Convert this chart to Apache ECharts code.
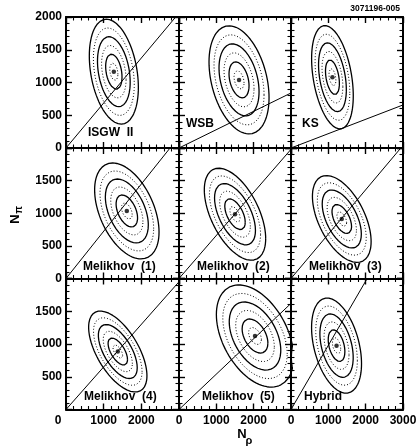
<!DOCTYPE html>
<html>
<head>
<meta charset="utf-8">
<script src="https://cdn.jsdelivr.net/npm/echarts@6/dist/echarts.min.js"></script>
<style>
  html, body { margin: 0; padding: 0; background: #fff; }
  #chart { width: 420px; height: 447px; }
</style>
</head>
<body>
<div id="chart"></div>
<script>
// Form-factor fit results: one panel per model, N_rho on x, N_pi on y.
const models = ['ISGW  II', 'WSB', 'KS',
                'Melikhov  (1)', 'Melikhov  (2)', 'Melikhov  (3)',
                'Melikhov  (4)', 'Melikhov  (5)', 'Hybrid'];
// best-fit point
const centerRho = [1270, 1608, 1110, 1615, 1500, 1360, 1375, 2036, 1220];
const centerPi  = [1165, 1040, 1080, 1035,  985,  912,  885, 1122,  975];
// one-sigma widths and correlation of the fit
const sigmaRho = [217, 268, 186, 285, 274, 262, 258, 345, 223];
const sigmaPi  = [267, 275, 263, 245, 235, 222, 206, 260, 242];
const corr     = [-0.30, -0.33, -0.36, -0.44, -0.53, -0.52, -0.60, -0.42, -0.38];
// model prediction: N_pi / N_rho ratio
const slope    = [0.687, 0.28, 0.219, 0.724, 0.66, 0.68, 0.65, 0.54, 0.98];
// contour levels in sigma (whole sigma solid, half sigma dotted)
const contourLevels = [0.5, 1, 1.5, 2, 2.5, 3];
// axis ticks
const xTicks = [0, 1000, 2000, 3000];
const yTicks = [0, 500, 1000, 1500, 2000];

const FONT = '"Liberation Sans", Arial, Helvetica, sans-serif';

// panel layout (pixels)
const colLeft = [66, 179, 291];
const colWidth = [113, 112, 112];
const rowTop = [17, 148, 278.5];
const rowHeight = [131, 130.5, 131];
// model-name placement inside each panel: [dx from left, dy from bottom]
const nameOffset = [[22, 15], [7, 24], [11, 24],
                    [17, 12], [18, 12], [18, 12],
                    [18, 13], [23, 13], [13, 13]];

function ellipse(g, k) {
  const pts = [];
  const r = corr[g];
  const q = Math.sqrt(1 - r * r);
  for (let a = 0; a <= 360; a += 4) {
    const t = a * Math.PI / 180;
    pts.push([
      centerRho[g] + k * sigmaRho[g] * Math.cos(t),
      centerPi[g] + k * sigmaPi[g] * (r * Math.cos(t) + q * Math.sin(t))
    ]);
  }
  return pts;
}

const grids = [], xAxes = [], yAxes = [], series = [], graphics = [];

const lineCol = '#000';
function tickParts() {
  return {
    axisLine: { show: true, onZero: false, lineStyle: { color: lineCol, width: 2 } },
    axisTick: { show: true, inside: true, length: 6, lineStyle: { color: lineCol, width: 1.4 } },
    minorTick: { show: true, splitNumber: 5, length: 3.5, lineStyle: { color: lineCol, width: 1.1 } },
    splitLine: { show: false },
    minorSplitLine: { show: false }
  };
}
const labelFont = { color: '#000', fontFamily: FONT, fontWeight: 'bold', fontSize: 12 };

for (let g = 0; g < 9; g++) {
  const r = Math.floor(g / 3), c = g % 3;
  grids.push({ left: colLeft[c], top: rowTop[r], width: colWidth[c], height: rowHeight[r], containLabel: false });

  ['bottom', 'top'].forEach(pos => {
    xAxes.push(Object.assign({
      type: 'value', gridIndex: g, position: pos,
      min: xTicks[0], max: xTicks[xTicks.length - 1], interval: xTicks[1] - xTicks[0],
      axisLabel: Object.assign({
        show: pos === 'bottom' && r === 2,
        margin: 5,
        formatter: v => {
          if (c < 2 && v === 3000) return '';
          if (c === 0 && v === 0) return '{s|0}';
          return String(v);
        },
        rich: { s: Object.assign({ padding: [0, 16, 0, 0] }, labelFont) }
      }, labelFont)
    }, tickParts()));
  });
  ['left', 'right'].forEach(pos => {
    yAxes.push(Object.assign({
      type: 'value', gridIndex: g, position: pos,
      min: yTicks[0], max: yTicks[yTicks.length - 1], interval: yTicks[1] - yTicks[0],
      axisLabel: Object.assign({
        show: pos === 'left' && c === 0,
        margin: 4,
        formatter: v => {
          if (r === 1 && v === 2000) return '';
          if (r === 2 && (v === 0 || v === 2000)) return '';
          return String(v);
        }
      }, labelFont)
    }, tickParts()));
  });

  const xi = 2 * g, yi = 2 * g;
  contourLevels.forEach(k => {
    const solid = Number.isInteger(k);
    series.push({
      type: 'line', xAxisIndex: xi, yAxisIndex: yi,
      data: ellipse(g, k), showSymbol: false, symbol: 'none', clip: true,
      lineStyle: solid ? { color: '#000', width: 1.3 } : { color: '#000', width: 1, type: [1, 2] },
      silent: true, z: 3
    });
  });
  series.push({
    type: 'line', xAxisIndex: xi, yAxisIndex: yi,
    data: [[0, 0], [3000, 3000 * slope[g]]], showSymbol: false, symbol: 'none', clip: true,
    lineStyle: { color: '#000', width: 1 }, silent: true, z: 3
  });
  series.push({
    type: 'scatter', xAxisIndex: xi, yAxisIndex: yi,
    data: [[centerRho[g], centerPi[g]]], symbol: 'circle', symbolSize: 4.5,
    itemStyle: { color: '#000' }, silent: true, z: 4
  });

  graphics.push({
    type: 'text', x: colLeft[c] + nameOffset[g][0], y: rowTop[r] + rowHeight[r] - nameOffset[g][1],
    z: 10,
    style: { text: models[g], fill: '#000', font: 'bold 12px ' + FONT,
             align: 'left', textAlign: 'left', verticalAlign: 'middle', textVerticalAlign: 'middle' }
  });
}

// axis titles and figure number
graphics.push(
  { type: 'text', x: 242, y: 434, z: 10,
    style: { text: 'N', fill: '#000', font: 'bold 13px ' + FONT, align: 'center', textAlign: 'center', verticalAlign: 'middle', textVerticalAlign: 'middle' } },
  { type: 'text', x: 249, y: 441, z: 10,
    style: { text: 'ρ', fill: '#000', font: 'bold 11px ' + FONT, align: 'center', textAlign: 'center', verticalAlign: 'middle', textVerticalAlign: 'middle' } },
  { type: 'text', x: 15, y: 219, rotation: Math.PI / 2, z: 10,
    style: { text: 'N', fill: '#000', font: 'bold 13px ' + FONT, align: 'center', textAlign: 'center', verticalAlign: 'middle', textVerticalAlign: 'middle' } },
  { type: 'text', x: 19, y: 210, rotation: Math.PI / 2, z: 10,
    style: { text: 'π', fill: '#000', font: 'bold 10px ' + FONT, align: 'center', textAlign: 'center', verticalAlign: 'middle', textVerticalAlign: 'middle' } },
  { type: 'text', x: 400, y: 9, z: 10,
    style: { text: '3071196-005', fill: '#000', font: 'bold 8.5px ' + FONT, align: 'right', textAlign: 'right', verticalAlign: 'middle', textVerticalAlign: 'middle' } }
);

const chart = echarts.init(document.getElementById('chart'), null, { renderer: 'canvas' });
chart.setOption({
  animation: false,
  backgroundColor: '#fff',
  grid: grids,
  xAxis: xAxes,
  yAxis: yAxes,
  series: series,
  graphic: graphics
});
</script>
</body>
</html>
